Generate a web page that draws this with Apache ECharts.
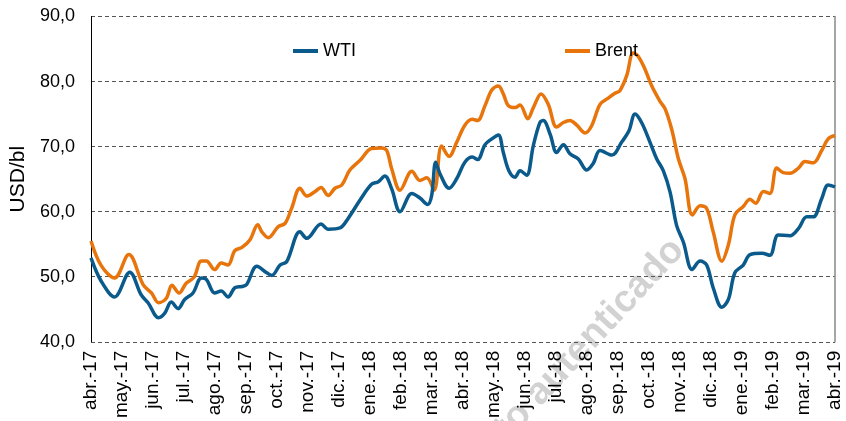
<!DOCTYPE html>
<html>
<head>
<meta charset="utf-8">
<script src="https://cdn.jsdelivr.net/npm/echarts@6/dist/echarts.min.js"></script>
<style>html,body{margin:0;padding:0;background:#fff}#c{width:846px;height:421px}</style>
</head>
<body>
<div id="c"></div>
<script>
var monthLabels = ['abr.-17','may.-17','jun.-17','jul.-17','ago.-17','sep.-17','oct.-17','nov.-17','dic.-17','ene.-18','feb.-18','mar.-18','abr.-18','may.-18','jun.-18','jul.-18','ago.-18','sep.-18','oct.-18','nov.-18','dic.-18','ene.-19','feb.-19','mar.-19','abr.-19'];
var yTicks = [40, 50, 60, 70, 80, 90];

// positions in months since abr.-17
var wtiMonths = [0,0.33,0.76,1.25,1.62,1.84,2.18,2.38,2.59,2.81,3.02,3.29,3.56,3.72,3.99,4.20,4.42,4.64,4.87,5.02,5.35,5.67,5.83,6.10,6.31,6.74,6.96,7.42,7.65,8.03,8.30,8.68,9.05,9.27,9.48,9.70,9.97,10.35,10.61,10.86,10.99,11.12,11.26,11.55,11.80,12.06,12.30,12.47,12.71,12.93,13.14,13.30,13.48,13.68,13.84,14.05,14.27,14.48,14.59,14.81,15.02,15.24,15.45,15.72,15.99,16.20,16.42,16.80,17.12,17.35,17.55,17.76,18.03,18.25,18.46,18.68,18.89,19.11,19.39,19.65,19.86,20.07,20.35,20.56,20.77,21.04,21.26,21.64,21.90,22.17,22.55,22.82,23.09,23.30,23.57,23.78,24.00];
var wtiValues = [52.9,49.3,46.9,50.7,47.2,46.0,43.7,44.4,46.1,45.1,46.5,47.5,49.8,49.6,47.5,47.8,46.9,48.3,48.5,48.8,51.6,50.6,50.2,51.8,52.3,56.9,55.9,58.1,57.3,57.5,59.0,61.8,64.2,64.6,65.5,63.5,60.0,62.8,62.1,61.1,62.5,67.6,65.8,63.6,65.1,67.6,68.4,68.0,70.3,71.2,71.8,69.1,66.3,65.3,66.3,65.6,70.2,73.7,74.0,71.9,69.1,70.3,68.9,68.1,66.4,67.4,69.4,68.7,70.7,72.4,75.0,73.7,70.7,68.1,66.3,63.0,57.9,55.3,51.1,52.4,51.8,48.3,45.3,46.5,50.6,51.8,53.4,53.6,53.3,56.4,56.3,57.4,59.2,59.2,62.0,64.1,63.8];

var brentMonths = [0,0.33,0.76,1.22,1.68,1.95,2.18,2.43,2.61,2.84,3.07,3.32,3.56,3.72,3.99,4.20,4.42,4.64,4.87,5.13,5.38,5.51,5.72,6.04,6.26,6.47,6.74,6.96,7.23,7.42,7.65,7.87,8.09,8.35,8.68,9.05,9.38,9.54,9.70,9.97,10.35,10.61,10.83,11.07,11.31,11.55,11.80,12.06,12.30,12.47,12.71,12.93,13.14,13.30,13.46,13.68,13.84,14.09,14.27,14.52,14.75,15.02,15.24,15.45,15.67,15.94,16.15,16.42,16.67,16.90,17.06,17.28,17.49,17.65,17.87,18.09,18.35,18.52,18.73,18.95,19.16,19.40,19.65,19.86,20.07,20.35,20.56,20.77,21.04,21.26,21.44,21.69,21.90,22.12,22.33,22.55,22.82,23.03,23.30,23.57,23.78,24.00];
var brentValues = [55.5,51.7,49.8,53.4,48.8,47.5,46.0,46.7,48.7,47.5,49.0,49.9,52.4,52.4,51.1,52.1,51.8,54.0,54.5,55.7,58.0,56.9,56.0,57.7,58.2,60.5,63.6,62.4,63.1,63.7,62.5,63.6,64.1,66.4,67.9,69.7,69.8,69.4,66.6,63.3,66.2,64.8,65.2,63.3,70.1,68.5,70.7,73.3,74.2,74.0,76.3,78.7,79.3,78.1,76.3,76.0,76.4,74.3,76.0,78.1,76.5,73.0,73.7,74.0,73.3,72.1,73.2,76.5,77.4,78.2,78.6,80.9,84.4,83.9,81.9,79.3,77.0,75.8,72.7,68.1,65.1,59.5,60.9,60.5,56.9,52.4,54.9,59.5,60.8,61.9,61.3,63.1,62.8,66.7,66.0,65.9,66.7,67.7,67.5,69.4,71.2,71.7];

function pairs(xs, ys) { return xs.map(function (x, i) { return [x, ys[i]]; }); }

var FONT = '"Liberation Sans", Arial, sans-serif';
var chart = echarts.init(document.getElementById('c'), null, {renderer: 'canvas'});
chart.setOption({
  animation: false,
  backgroundColor: '#fff',
  grid: {left: 91, right: 11, top: 16.5, bottom: 78, containLabel: false},
  graphic: [{
    type: 'text', z: -10,
    x: 678, y: 244, rotation: 47 * Math.PI / 180,
    style: {text: 'Documento autenticado', fill: '#d2d2d2', font: 'bold 38px ' + FONT, align: 'right', verticalAlign: 'middle'}
  }],
  legend: [
    {data: ['WTI'], left: 293, top: 42, padding: 0, icon: 'rect', itemWidth: 25, itemHeight: 4,
     textStyle: {fontSize: 18, fontFamily: FONT, color: '#000'}},
    {data: ['Brent'], left: 565, top: 42, padding: 0, icon: 'rect', itemWidth: 25, itemHeight: 4,
     textStyle: {fontSize: 18, fontFamily: FONT, color: '#000'}}
  ],
  xAxis: {
    type: 'value', min: 0, max: monthLabels.length - 1, interval: 1,
    axisLine: {show: false}, axisTick: {show: false}, splitLine: {show: false},
    axisLabel: {rotate: 90, margin: 9, fontSize: 19, fontFamily: FONT, color: '#000',
      showMinLabel: true, showMaxLabel: true,
      formatter: function (v) { return monthLabels[Math.round(v)] || ''; }}
  },
  yAxis: [{
    type: 'value', min: yTicks[0], max: yTicks[yTicks.length - 1], interval: 10,
    name: 'USD/bl', nameLocation: 'middle', nameGap: 60, nameRotate: 90,
    nameTextStyle: {fontSize: 21, fontFamily: FONT, color: '#000'},
    axisLine: {show: true, lineStyle: {color: '#000', width: 1}},
    axisTick: {show: false},
    splitLine: {show: true, lineStyle: {color: '#555', type: [4, 3], width: 1}},
    axisLabel: {margin: 16, fontSize: 18, fontFamily: FONT, color: '#000',
      formatter: function (v) { return v.toFixed(1).replace('.', ','); }}
  }, {
    type: 'value', position: 'right', min: yTicks[0], max: yTicks[yTicks.length - 1], interval: 10,
    axisLine: {show: true, lineStyle: {color: '#888', width: 1.5}},
    axisTick: {show: false}, axisLabel: {show: false}, splitLine: {show: false}
  }],
  series: [
    {name: 'WTI', type: 'line', data: pairs(wtiMonths, wtiValues), showSymbol: false, smooth: 0.35,
     color: '#0b5a8c', lineStyle: {width: 3.5, color: '#0b5a8c'}, z: 3},
    {name: 'Brent', type: 'line', data: pairs(brentMonths, brentValues), showSymbol: false, smooth: 0.35,
     color: '#e8740c', lineStyle: {width: 3.5, color: '#e8740c'}, z: 2}
  ]
});
</script>
</body>
</html>
